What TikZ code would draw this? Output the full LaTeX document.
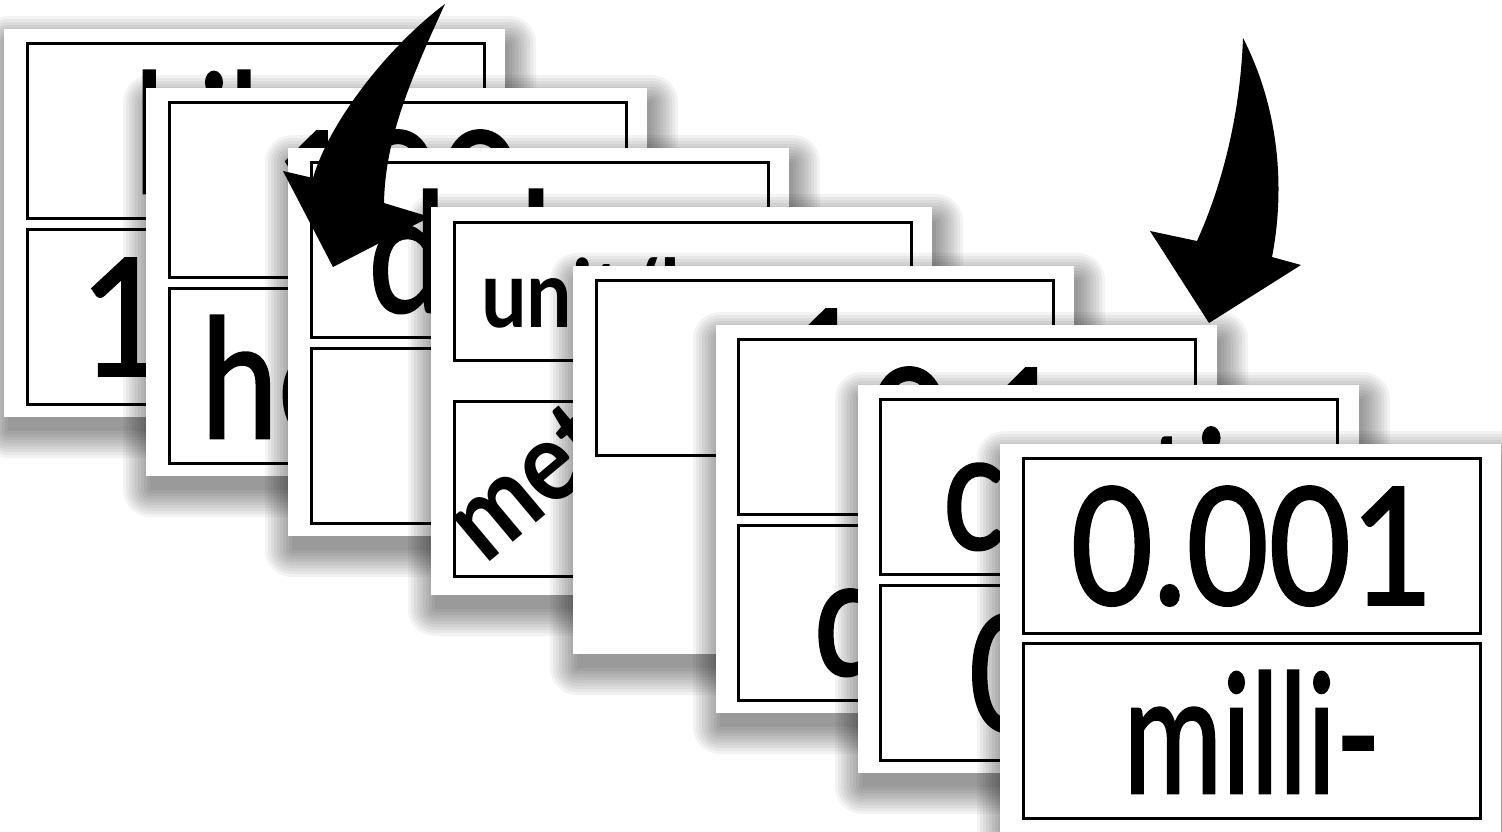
\documentclass[tikz,border=0pt]{standalone}
\usepackage{graphicx}
\usepackage{fontspec}
\setmainfont{Lato}
\newfontfamily\cardfont[FakeBold=1.6]{Lato}
\newfontfamily\smallfont{Lato}
\newcommand{\sx}[2]{\scalebox{#1}[1]{#2}}
\tikzset{
  card/.style={fill=white, inner sep=0pt, minimum width=501pt, minimum height=388pt, anchor=north west},
  cardshade/.style={fill=black, opacity=0.046},
  ibox/.style={draw=black, line width=3pt, inner sep=0pt, minimum width=457pt, minimum height=175pt, anchor=north west},
  numt/.style={font=\cardfont\fontsize{163}{163}\selectfont, text height=117pt, text depth=0pt},
  wordt/.style={font=\cardfont\fontsize{166}{166}\selectfont, text height=124pt, text depth=0pt},
  smallt/.style={font=\smallfont\bfseries\fontsize{94}{94}\selectfont, inner sep=0pt, anchor=base west},
  bigarrow/.style={fill=black, draw=none}
}
% card with a soft shadow: name, x, y
\newcommand{\drawcard}[3]{%
  \foreach \k in {27,24,...,0} {
    \fill[cardshade, shift={(#2,#3)}, rounded corners=\k pt] (4-\k,14-\k) rectangle (505+\k,402+\k);
  }
  \node[card] (#1) at (#2,#3) {};
}
\begin{document}
\begin{tikzpicture}[x=1pt, y=-1pt]
\fill[white] (0,0) rectangle (1502,831);
\useasboundingbox (0,0) rectangle (1502,831);
% card 1
\drawcard{c1}{4}{29}
\node[ibox, wordt] (c1a) at ([shift={(22,13)}]c1.north west) {\sx{0.76}{kilo-}};
\node[ibox, numt] (c1b) at ([shift={(22,199)}]c1.north west) {\sx{0.93}{1000}};
% card 2
\drawcard{c2}{146}{88}
\node[ibox, numt] (c2a) at ([shift={(22,13)}]c2.north west) {\sx{0.87}{100}};
\node[ibox, wordt] (c2b) at ([shift={(22,199)}]c2.north west) {\sx{0.83}{hecto-}};
% card 3
\drawcard{c3}{288}{148}
\node[ibox, wordt] (c3a) at ([shift={(22,13)}]c3.north west) {\sx{0.84}{deka-}};
\node[ibox, numt] (c3b) at ([shift={(22,199)}]c3.north west) {\sx{0.87}{10}};
% left arrow
\coordinate (la1) at (445,4);
\coordinate (la2) at (313,178);
\coordinate (la3) at (283,171);
\coordinate (la4) at (333,267);
\coordinate (la5) at (430,217);
\coordinate (la6) at (384,203);
\fill[bigarrow] (la1) .. controls (390,45) and (330,120) .. (la2) -- (la3) -- (la4) -- (la5) -- (la6)
  .. controls (385,140) and (410,80) .. (la1) -- cycle;
% card 4
\drawcard{c4}{431}{207}
\node[ibox, minimum height=138pt] (c4a) at ([shift={(22,14)}]c4.north west) {};
\node[ibox] (c4b) at ([shift={(22,193)}]c4.north west) {};
\node[smallt] (c4t) at ([shift={(28,106)}]c4a.north west) {\sx{0.86}{unit/base}};
\node[smallt, rotate=40, font=\smallfont\bfseries\fontsize{112}{112}\selectfont] (c4u) at ([shift={(32,166)}]c4b.north west) {\sx{0.9}{metre}};
% card 5
\drawcard{c5}{573}{266}
\node[ibox, numt] (c5a) at ([shift={(22,13)}]c5.north west) {\sx{0.87}{1}};
% right arrow
\coordinate (ra1) at (1243,38);
\coordinate (ra2) at (1197,241);
\coordinate (ra3) at (1150,231);
\coordinate (ra4) at (1209,323);
\coordinate (ra5) at (1301,265);
\coordinate (ra6) at (1272,257);
\fill[bigarrow] (ra1) .. controls (1240,120) and (1220,190) .. (ra2) -- (ra3) -- (ra4) -- (ra5) -- (ra6)
  .. controls (1285,190) and (1280,110) .. (ra1) -- cycle;
% card 6
\drawcard{c6}{716}{325}
\node[ibox, numt] (c6a) at ([shift={(21,13)}]c6.north west) {\sx{0.87}{0.1}};
\node[ibox, wordt] (c6b) at ([shift={(21,199)}]c6.north west) {\sx{0.85}{deci-}};
% card 7
\drawcard{c7}{858}{385}
\node[ibox, wordt] (c7a) at ([shift={(21,13)}]c7.north west) {\sx{0.79}{centi-}};
\node[ibox, numt] (c7b) at ([shift={(21,199)}]c7.north west) {\sx{0.87}{0.01}};
% card 8
\drawcard{c8}{1000}{444}
\node[ibox, numt] (c8a) at ([shift={(22,13)}]c8.north west) {\sx{0.87}{0.001}};
\node[ibox, wordt] (c8b) at ([shift={(22,198)}]c8.north west) {\sx{0.72}{milli-}};
\end{tikzpicture}
\end{document}
